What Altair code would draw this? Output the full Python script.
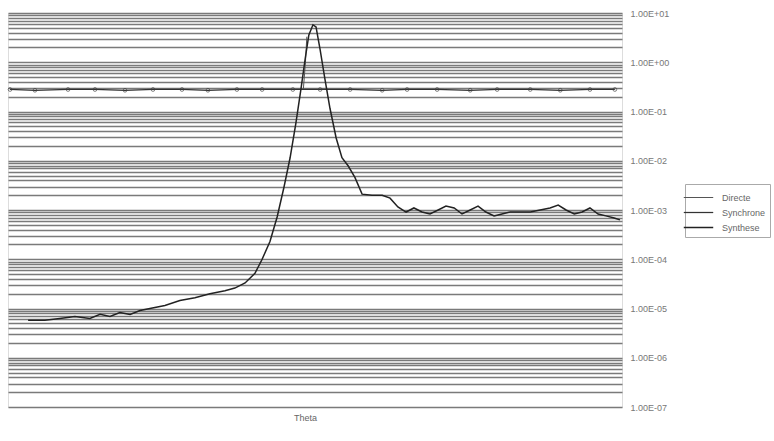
import altair as alt
import pandas as pd

# Synthese (thick curve)
syn_theta = [5.9, 10.8, 15.2, 19.6, 24.0, 27.0, 29.9, 32.8, 35.8, 38.7, 41.6, 46.0, 50.4, 54.8,
             59.2, 63.6, 66.5, 69.5, 72.4, 74.5, 76.8, 78.9, 80.9, 82.7, 84.4, 85.9, 87.1, 88.2,
             89.4, 90.3, 91.5, 92.9, 94.4, 96.2, 97.9, 99.7, 101.7, 103.8, 106.7, 109.7, 112.0,
             114.3, 116.7, 119.0, 121.4, 123.7, 126.1, 128.4, 130.8, 133.1, 135.5, 137.8, 140.1,
             142.5, 144.8, 147.2, 150.1, 153.1, 156.0, 158.9, 161.3, 163.6, 166.0, 168.3, 170.6,
             173.0, 175.3, 177.7, 179.4]
syn_val = [5.75e-6, 5.75e-6, 6.3e-6, 6.9e-6, 6.3e-6, 7.6e-6, 6.9e-6, 8.3e-6, 7.6e-6, 9.1e-6,
           1.0e-5, 1.15e-5, 1.45e-5, 1.66e-5, 2.0e-5, 2.3e-5, 2.6e-5, 3.3e-5, 5.2e-5, 1.0e-4,
           2.3e-4, 7.2e-4, 2.9e-3, 1.15e-2, 5.8e-2, 0.29, 1.15, 3.6, 5.75, 5.2, 1.8, 0.46, 0.115,
           0.029, 1.15e-2, 7.9e-3, 4.6e-3, 2.1e-3, 2.0e-3, 2.0e-3, 1.74e-3, 1.15e-3, 9.1e-4,
           1.1e-3, 9.1e-4, 8.3e-4, 1.0e-3, 1.2e-3, 1.1e-3, 8.3e-4, 1.0e-3, 1.2e-3, 9.1e-4,
           7.6e-4, 8.3e-4, 9.1e-4, 9.1e-4, 9.1e-4, 1.0e-3, 1.1e-3, 1.26e-3, 1.0e-3, 8.3e-4,
           9.1e-4, 1.1e-3, 8.3e-4, 7.6e-4, 6.9e-4, 6.3e-4]

# Directe (thin segment near the peak)
dir_theta = [86.6, 87.2, 87.6]
dir_val = [0.29, 1.0, 3.3]

# Synchrone (flat line with markers)
sync_theta = [0.6, 7.9, 17.6, 25.5, 34.3, 42.5, 51.0, 58.6, 67.1, 74.5, 83.5, 91.5, 100.3,
              109.7, 117.0, 125.8, 135.5, 143.4, 153.1, 161.9, 170.6, 177.9]
sync_val = [0.28, 0.27, 0.28, 0.28, 0.27, 0.28, 0.28, 0.27, 0.28, 0.28, 0.28, 0.28, 0.28,
            0.27, 0.28, 0.28, 0.27, 0.28, 0.28, 0.27, 0.28, 0.28]

series_names = ["Directe", "Synchrone", "Synthese"]

rows = []
for t, v in zip(dir_theta, dir_val):
    rows.append({"theta": t, "val": v, "serie": "Directe"})
for t, v in zip(sync_theta, sync_val):
    rows.append({"theta": t, "val": v, "serie": "Synchrone"})
for t, v in zip(syn_theta, syn_val):
    rows.append({"theta": t, "val": v, "serie": "Synthese"})
df = pd.DataFrame(rows)

decades = [1e-7, 1e-6, 1e-5, 1e-4, 1e-3, 1e-2, 1e-1, 1.0]
tick_values = [k * d for d in decades for k in range(1, 10)] + [10.0]

label_expr = ("abs(log(datum.value)/LN10 - round(log(datum.value)/LN10)) < 1e-6 ? "
              "'1.00E' + (datum.value >= 1 ? '+' : '-') + '0' + abs(round(log(datum.value)/LN10)) : ''")

x = alt.X("theta:Q", scale=alt.Scale(domain=[0, 180], nice=False),
          axis=alt.Axis(title="Theta", labels=False, ticks=False, domain=False, grid=False,
                        titleFontSize=9, titleFont="Liberation Sans", titleColor="#666",
                        titleFontWeight="normal", titlePadding=6, titleX=297))
y = alt.Y("val:Q", scale=alt.Scale(type="log", domain=[1e-7, 10], nice=False),
          axis=alt.Axis(orient="right", title=None, values=tick_values, labelExpr=label_expr,
                        ticks=False, domain=False, grid=True, gridColor="#7a7a7a",
                        gridWidth=1.3, labelFontSize=9, labelFont="Liberation Sans",
                        labelColor="#777", labelPadding=8, labelBound=False))

leg = alt.Legend(title=None, orient="none", legendX=677, legendY=171,
                 symbolType="M-1.7,0H1.7", symbolSize=300, labelFontSize=9,
                 labelFont="Liberation Sans", labelColor="#666", labelOffset=14,
                 strokeColor="#aaaaaa", padding=4, rowPadding=0)
color = alt.Color("serie:N", scale=alt.Scale(domain=series_names,
                                              range=["#555555", "#333333", "#222222"]),
                  legend=leg)
width = alt.StrokeWidth("serie:N", scale=alt.Scale(domain=series_names, range=[1, 1.5, 2.2]),
                        legend=leg)

lines = alt.Chart(df).mark_line(interpolate="linear").encode(
    x=x, y=y, color=color, strokeWidth=width, order="theta:Q")

points = alt.Chart(df).transform_filter(alt.datum.serie == "Synchrone").mark_point(
    filled=False, size=14, color="#444444", strokeWidth=1).encode(x=x, y=y)

chart = alt.layer(lines, points).properties(
    width=614, height=394,
    padding={"left": 8, "top": 13, "right": 152, "bottom": 34},
    autosize=alt.AutoSizeParams(type="none"),
).configure_view(strokeWidth=0).configure(background="white")

chart.save("out.html", embed_options={"renderer": "svg", "actions": False})
